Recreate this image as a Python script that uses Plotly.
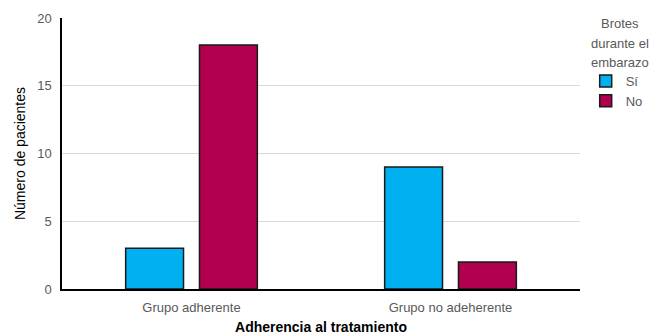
import plotly.graph_objects as go

categories = ["Grupo adherente", "Grupo no adeherente"]
si_values = [3, 9]
no_values = [18, 2]
y_ticks = [0, 5, 10, 15, 20]
legend_title_lines = ["Brotes", "durante el", "embarazo"]

FONT = "Liberation Sans"
GRAY = "#595959"

fig = go.Figure()
fig.add_trace(go.Bar(x=categories, y=si_values, name="Sí",
                     marker=dict(color="#00B0F0", line=dict(color="#1a1a1a", width=1.5))))
fig.add_trace(go.Bar(x=categories, y=no_values, name="No",
                     marker=dict(color="#B0004E", line=dict(color="#1a1a1a", width=1.5))))

title_y = [0.9815, 0.9077, 0.834]
annotations = [dict(text=t, xref="paper", yref="paper", x=1.077, y=yy,
                    xanchor="center", yanchor="middle", showarrow=False,
                    font=dict(family=FONT, size=13, color=GRAY))
               for t, yy in zip(legend_title_lines, title_y)]

fig.update_layout(
    width=660, height=336,
    margin=dict(l=62, r=80, t=18, b=47, autoexpand=False),
    plot_bgcolor="white", paper_bgcolor="white",
    barmode="group", bargap=0.43, bargroupgap=0.216,
    font=dict(family=FONT, size=13, color=GRAY),
    showlegend=True,
    legend=dict(x=1.011, y=0.823, xanchor="left", yanchor="top",
                font=dict(family=FONT, size=13, color=GRAY),
                itemwidth=30, tracegroupgap=0),
    annotations=annotations,
)
fig.update_xaxes(showline=True, linecolor="black", linewidth=1.5,
                 ticklabelstandoff=6,
                 tickfont=dict(family=FONT, size=13, color=GRAY),
                 title=dict(text="<b>Adherencia al tratamiento</b>", standoff=8,
                            font=dict(family=FONT, size=14, color="black")))
fig.update_yaxes(range=[0, 20], tickvals=y_ticks, showline=True, linecolor="black", linewidth=1.5,
                 gridcolor="#d9d9d9", gridwidth=1, zeroline=False, ticklabelstandoff=6,
                 tickfont=dict(family=FONT, size=13, color=GRAY),
                 title=dict(text="Número de pacientes", standoff=8,
                            font=dict(family=FONT, size=14, color="black")))

fig.write_html("out.html")
